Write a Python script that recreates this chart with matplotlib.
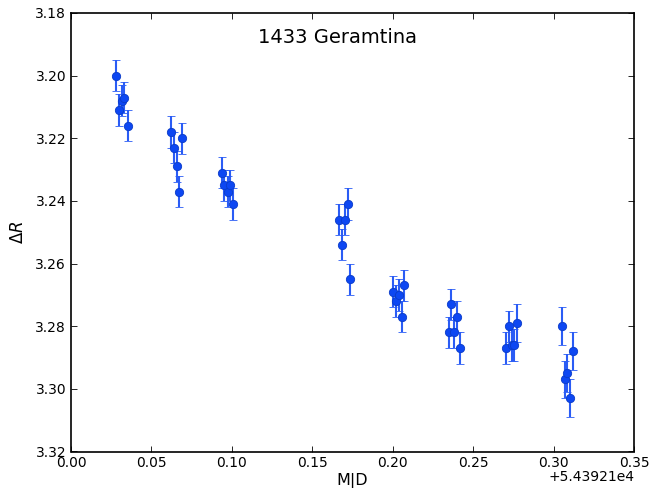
import matplotlib
matplotlib.use("Agg")
import matplotlib.pyplot as plt
import numpy as np

title = "1433 Geramtina"
mjd_offset_label = "+5.43921e4"

mjd = [0.0282, 0.0298, 0.0315, 0.0331, 0.0352,
       0.0622, 0.0640, 0.0657, 0.0673, 0.0690,
       0.0941, 0.0953, 0.0974, 0.0990, 0.1007,
       0.1668, 0.1687, 0.1703, 0.1722, 0.1737,
       0.2004, 0.2020, 0.2039, 0.2056, 0.2072,
       0.2348, 0.2362, 0.2383, 0.2400, 0.2418,
       0.2702, 0.2723, 0.2740, 0.2756, 0.2775,
       0.3052, 0.3069, 0.3085, 0.3104, 0.3119]
delta_r = [3.200, 3.211, 3.208, 3.207, 3.216,
           3.218, 3.223, 3.229, 3.237, 3.220,
           3.231, 3.235, 3.237, 3.235, 3.241,
           3.246, 3.254, 3.246, 3.241, 3.265,
           3.269, 3.272, 3.270, 3.277, 3.267,
           3.282, 3.273, 3.282, 3.277, 3.287,
           3.287, 3.280, 3.286, 3.286, 3.279,
           3.280, 3.297, 3.295, 3.303, 3.288]
err = [0.005, 0.005, 0.005, 0.005, 0.005,
       0.005, 0.005, 0.005, 0.005, 0.005,
       0.005, 0.005, 0.005, 0.005, 0.005,
       0.005, 0.005, 0.005, 0.005, 0.005,
       0.005, 0.005, 0.005, 0.005, 0.005,
       0.005, 0.005, 0.005, 0.005, 0.005,
       0.005, 0.005, 0.005, 0.005, 0.006,
       0.006, 0.006, 0.006, 0.006, 0.006]

xticks = [0.00, 0.05, 0.10, 0.15, 0.20, 0.25, 0.30, 0.35]
yticks = [3.18, 3.20, 3.22, 3.24, 3.26, 3.28, 3.30, 3.32]

fig = plt.figure(figsize=(6.54, 4.88), dpi=100)
ax = fig.add_axes([71/654, 36.5/488, 563/654, 438.5/488])

ax.errorbar(mjd, delta_r, yerr=err, fmt='o', color='#0d47f2', ecolor='#2a5cf5',
            elinewidth=1.5, capsize=3, capthick=1, markersize=6,
            markeredgecolor='#0a3bc8', markeredgewidth=0.6)

ax.set_xlim(0, 0.35)
ax.set_ylim(3.32, 3.18)
ax.set_xticks(xticks)
ax.set_yticks(yticks)
ax.set_xticklabels([f"{t:.2f}" for t in xticks])
ax.set_yticklabels([f"{t:.2f}" for t in yticks])
ax.tick_params(direction='in', top=True, right=True, length=4, labelsize=10, width=0.6)
for s in ax.spines.values():
    s.set_linewidth(1.2)

ax.set_xlabel("M|D", fontsize=11.5, labelpad=2)
ax.set_ylabel(r"$\Delta R$", fontsize=12, labelpad=6)
ax.text(0.474, 0.943, title, transform=ax.transAxes, ha='center', va='center', fontsize=14)
fig.text(634/654, 1 - 477/488, mjd_offset_label, ha='right', va='center', fontsize=10)

fig.savefig("out.png", dpi=100)
